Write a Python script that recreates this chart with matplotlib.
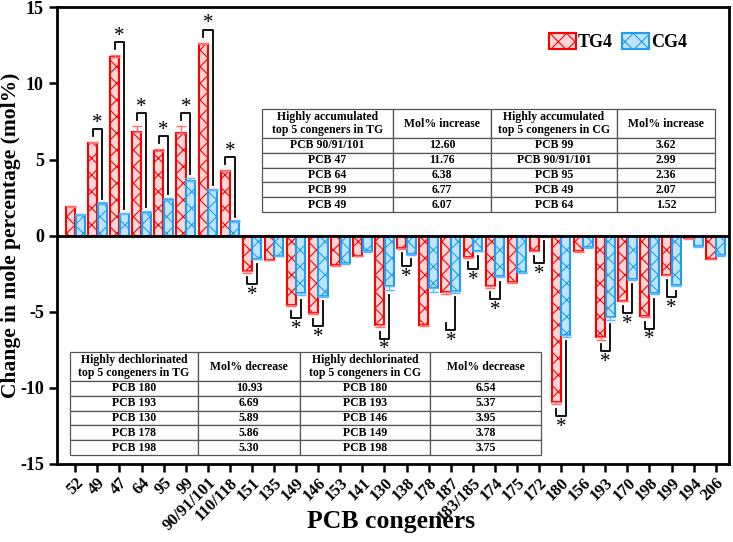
import matplotlib
matplotlib.use('Agg')
import matplotlib.pyplot as plt
import numpy as np
from matplotlib.patches import Patch

plt.rcParams['font.family'] = ['Liberation Serif', 'DejaVu Serif']
plt.rcParams['font.weight'] = 'bold'
plt.rcParams['axes.unicode_minus'] = False
plt.rcParams['hatch.linewidth'] = 0.8

# ---------------- data ----------------
congeners = ['52', '49', '47', '64', '95', '99', '90/91/101', '110/118', '151', '135',
             '149', '146', '153', '141', '130', '138', '178', '187', '183/185', '174',
             '175', '172', '180', '156', '193', '170', '198', '199', '194', '206']
tg4 = [1.88, 6.07, 11.76, 6.83, 5.58, 6.77, 12.60, 4.25, -2.34, -1.58,
       -4.53, -5.08, -1.95, -1.31, -5.89, -0.81, -5.86, -3.70, -1.40, -3.33,
       -3.04, -0.98, -10.93, -1.03, -6.69, -4.27, -5.30, -2.56, -0.17, -1.51]
cg4 = [1.36, 2.07, 1.42, 1.52, 2.36, 3.62, 2.99, 0.87, -1.51, -1.31,
       -3.78, -3.95, -1.80, -1.03, -3.33, -1.20, -3.44, -3.66, -0.98, -2.67,
       -2.41, -0.05, -6.54, -0.77, -5.37, -2.84, -3.75, -3.26, -0.70, -1.29]
tg4_err = [0.05, 0.08, 0.12, 0.37, 0.12, 0.42, 0.08, 0.05, 0.10, 0.05,
           0.12, 0.08, 0.05, 0.05, 0.12, 0.05, 0.05, 0.12, 0.05, 0.08,
           0.10, 0.05, 0.15, 0.05, 0.15, 0.05, 0.05, 0.05, 0.03, 0.05]
cg4_err = [0.05, 0.12, 0.08, 0.08, 0.10, 0.15, 0.08, 0.13, 0.05, 0.05,
           0.12, 0.05, 0.05, 0.05, 0.25, 0.05, 0.25, 0.10, 0.05, 0.05,
           0.05, 0.02, 0.10, 0.05, 0.15, 0.05, 0.08, 0.05, 0.05, 0.05]
significant = [False, True, True, True, True, True, True, True, True, False,
               True, True, False, False, True, True, False, True, True, True,
               False, True, True, False, True, True, True, True, False, False]
bracket_override = {'187': -6.2}

acc_header = ['Highly accumulated\ntop 5 congeners in TG', 'Mol% increase',
              'Highly accumulated\ntop 5 congeners in CG', 'Mol% increase']
acc_tg_names = ['PCB 90/91/101', 'PCB 47', 'PCB 64', 'PCB 99', 'PCB 49']
acc_tg_vals = ['12.60', '11.76', '6.38', '6.77', '6.07']
acc_cg_names = ['PCB 99', 'PCB 90/91/101', 'PCB 95', 'PCB 49', 'PCB 64']
acc_cg_vals = ['3.62', '2.99', '2.36', '2.07', '1.52']

dec_header = ['Highly dechlorinated\ntop 5 congeners in TG', 'Mol% decrease',
              'Highly dechlorinated\ntop 5 congeners in CG', 'Mol% decrease']
dec_tg_names = ['PCB 180', 'PCB 193', 'PCB 130', 'PCB 178', 'PCB 198']
dec_tg_vals = ['10.93', '6.69', '5.89', '5.86', '5.30']
dec_cg_names = ['PCB 180', 'PCB 193', 'PCB 146', 'PCB 149', 'PCB 198']
dec_cg_vals = ['6.54', '5.37', '3.95', '3.78', '3.75']

# ---------------- figure ----------------
fig = plt.figure(figsize=(7.33, 5.42), dpi=100)
ax = fig.add_axes([57 / 733, 1 - 464 / 542, (729 - 57) / 733, (464 - 7.3) / 542])

x = np.arange(len(congeners))
w = 0.41
off = 0.215
red_edge = '#FF0000'
red_face = '#FFD6D6'
blue_edge = '#1E9EF0'
blue_face = '#BFE4FF'

tg = np.array(tg4)
cg = np.array(cg4)
te = np.array(tg4_err)
ce = np.array(cg4_err)

ax.bar(x - off, tg, w, facecolor=red_face, edgecolor=red_edge, hatch='xx', linewidth=1.5, zorder=2)
ax.bar(x + off, cg, w, facecolor=blue_face, edgecolor=blue_edge, hatch='xx', linewidth=1.5, zorder=2)

# one-sided error bars
tg_yerr = np.vstack([np.where(tg < 0, te, 0), np.where(tg >= 0, te, 0)])
cg_yerr = np.vstack([np.where(cg < 0, ce, 0), np.where(cg >= 0, ce, 0)])
ax.errorbar(x - off, tg, yerr=tg_yerr, fmt='none', ecolor='#FF7070', elinewidth=1, capsize=3.5, zorder=3)
ax.errorbar(x + off, cg, yerr=cg_yerr, fmt='none', ecolor='#5CB8FF', elinewidth=1, capsize=3.5, zorder=3)

# significance brackets
for i, name in enumerate(congeners):
    if not significant[i]:
        continue
    xl, xr = i - off, i + off
    if tg[i] > 0:
        rt = tg[i] + te[i]
        bt = cg[i] + ce[i]
        top = max(rt, bt) + 0.85
        ax.plot([xl, xl, xr, xr], [rt + 0.4, top, top, bt + 0.25], color='black', lw=1.3, zorder=4)
        ax.text(i, top + 0.38, '*', ha='center', va='center', fontsize=15, fontweight='normal')
    else:
        rb = tg[i] - te[i]
        bb = cg[i] - ce[i]
        if name in bracket_override:
            bot = bracket_override[name]
            left_start = bot + 0.45
        else:
            bot = min(rb, bb) - 0.75
            left_start = rb - 0.3
        ax.plot([xl, xl, xr, xr], [left_start, bot, bot, bb - 0.3], color='black', lw=1.3, zorder=4)
        ax.text(i, bot - 0.75, '*', ha='center', va='center', fontsize=15, fontweight='normal')

ax.axhline(0, color='black', lw=2, zorder=5)

ax.set_xlim(-0.83, 29.6)
ax.set_ylim(-15, 15)
ax.set_yticks(np.arange(-15, 16, 5))
ax.set_yticklabels([str(v) for v in np.arange(-15, 16, 5)], fontsize=13, fontweight='bold')
ax.set_xticks(x)
ax.set_xticklabels(congeners, rotation=45, ha='right', rotation_mode='anchor', fontsize=12, fontweight='bold')
ax.tick_params(axis='both', direction='out', length=6, width=1.8)
ax.tick_params(axis='x', pad=2)
for s in ax.spines.values():
    s.set_linewidth(2)

ax.set_ylabel('Change in mole percentage (mol%)', fontsize=15.5, fontweight='bold')
ax.yaxis.set_label_coords(-0.054, 0.5)
ax.set_xlabel('PCB congeners', fontsize=18.5, fontweight='bold')
ax.xaxis.set_label_coords(0.497, -0.1)

handles = [Patch(facecolor=red_face, edgecolor=red_edge, hatch='xx', linewidth=1.5),
           Patch(facecolor=blue_face, edgecolor=blue_edge, hatch='xx', linewidth=1.5)]
ax.legend(handles, ['TG4', 'CG4'], ncol=2, loc='upper right', bbox_to_anchor=(0.962, 0.98),
          frameon=False, prop={'weight': 'bold', 'size': 13}, handlelength=1.5, handleheight=1.0,
          columnspacing=0.5, handletextpad=0.12)


def draw_table(rect, header, c1, c2, c3, c4, colw):
    tax = fig.add_axes(rect)
    tax.axis('off')
    rows = [[a, b, c, d] for a, b, c, d in zip(c1, c2, c3, c4)]
    tb = tax.table(cellText=rows, colLabels=header, colWidths=colw, cellLoc='center',
                   loc='center', bbox=[0, 0, 1, 1])
    tb.auto_set_font_size(False)
    for (r, c), cell in tb.get_celld().items():
        cell.set_edgecolor('#555555')
        cell.set_linewidth(0.9)
        cell.get_text().set_fontweight('bold')
        cell.get_text().set_fontsize(8.5)
        cell.set_height(1.96 if r == 0 else 1.0)
    return tb


draw_table([262 / 733, 1 - 212 / 542, 453 / 733, 103 / 542], acc_header,
           acc_tg_names, acc_tg_vals, acc_cg_names, acc_cg_vals, [131, 98, 126, 98])
draw_table([70 / 733, 1 - 455 / 542, 471 / 733, 103 / 542], dec_header,
           dec_tg_names, dec_tg_vals, dec_cg_names, dec_cg_vals, [128, 102, 130, 111])

fig.savefig('out.png', dpi=100)
